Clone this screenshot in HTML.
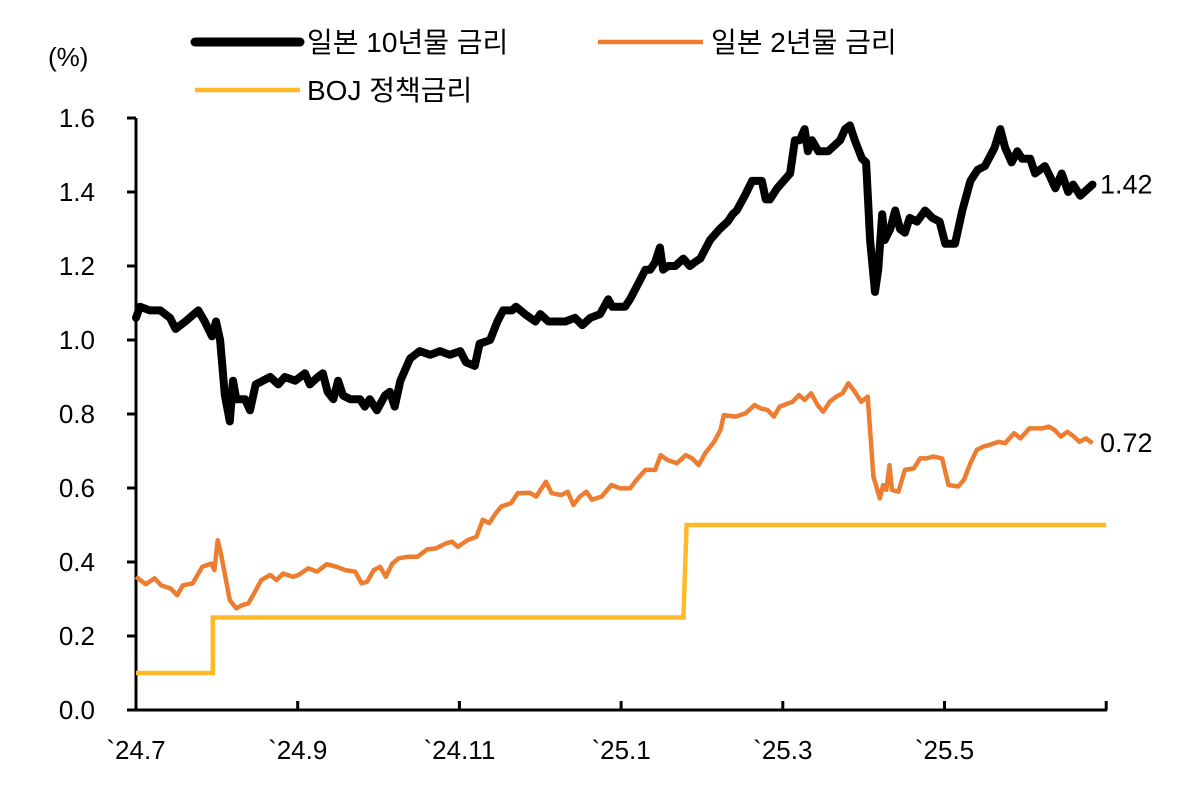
<!DOCTYPE html>
<html><head><meta charset="utf-8"><style>
html,body{margin:0;padding:0;background:#fff;}
svg{display:block;font-family:"Liberation Sans","Noto Sans CJK KR",sans-serif;}
</style></head><body>
<svg id="chart" width="1200" height="804" viewBox="0 0 1200 804">
<g id="axes"></g>
<g id="series"></g>
<g>
 <line x1="195" y1="42" x2="300" y2="42" stroke="#000" stroke-width="9" stroke-linecap="round"/>
 <text x="307" y="52" font-size="28">일본 10년물 금리</text>
 <line x1="598" y1="42" x2="703" y2="42" stroke="#ED7D31" stroke-width="4.5"/>
 <text x="711" y="52" font-size="28">일본 2년물 금리</text>
 <line x1="195" y1="90" x2="300" y2="90" stroke="#FDB927" stroke-width="4.5"/>
 <text x="307" y="100" font-size="28">BOJ 정책금리</text>
</g>
<text x="48" y="66" font-size="26">(%)</text>
</svg>
<script>
const yTicks=[0,0.2,0.4,0.6,0.8,1.0,1.2,1.4,1.6];
const xTickMonths=[0,2,4,6,8,10,12];
const xTickLabels=["`24.7","`24.9","`24.11","`25.1","`25.3","`25.5",""];
const t10=[0,.05,.17,.30,.42,.49,.61,.77,.85,.94,.99,1.04,1.10,1.16,1.20,1.24,1.35,1.41,1.48,1.66,1.76,1.84,1.97,2.09,2.15,2.25,2.31,2.37,2.44,2.50,2.56,2.65,2.77,2.83,2.89,2.98,3.08,3.14,3.20,3.27,3.39,3.51,3.64,3.76,3.88,4.01,4.08,4.19,4.25,4.38,4.47,4.54,4.65,4.70,4.81,4.94,5.00,5.10,5.18,5.31,5.43,5.52,5.62,5.74,5.84,5.89,6.05,6.11,6.23,6.30,6.36,6.42,6.48,6.52,6.58,6.67,6.77,6.85,6.91,6.98,7.10,7.22,7.32,7.38,7.43,7.53,7.62,7.68,7.74,7.79,7.84,7.93,8.09,8.15,8.21,8.27,8.31,8.36,8.44,8.56,8.71,8.77,8.83,8.89,8.98,9.03,9.08,9.14,9.18,9.23,9.26,9.33,9.39,9.45,9.51,9.57,9.66,9.76,9.85,9.94,10.01,10.13,10.22,10.32,10.41,10.50,10.62,10.69,10.75,10.83,10.90,10.96,11.06,11.12,11.24,11.31,11.37,11.45,11.53,11.59,11.68,11.78,11.83];
const y10=[1.06,1.09,1.08,1.08,1.06,1.03,1.05,1.08,1.05,1.01,1.05,1.00,.85,.78,.89,.84,.84,.81,.88,.90,.88,.90,.89,.91,.88,.90,.91,.86,.84,.89,.85,.84,.84,.82,.84,.81,.85,.86,.82,.89,.95,.97,.96,.97,.96,.97,.94,.93,.99,1.00,1.05,1.08,1.08,1.09,1.07,1.05,1.07,1.05,1.05,1.05,1.06,1.04,1.06,1.07,1.11,1.09,1.09,1.11,1.16,1.19,1.19,1.21,1.25,1.19,1.20,1.20,1.22,1.20,1.21,1.22,1.27,1.30,1.32,1.34,1.35,1.39,1.43,1.43,1.43,1.38,1.38,1.41,1.45,1.54,1.54,1.57,1.51,1.54,1.51,1.51,1.54,1.57,1.58,1.54,1.49,1.48,1.27,1.13,1.19,1.34,1.27,1.30,1.35,1.30,1.29,1.33,1.32,1.35,1.33,1.32,1.26,1.26,1.35,1.43,1.46,1.47,1.52,1.57,1.52,1.48,1.51,1.49,1.49,1.45,1.47,1.44,1.41,1.45,1.40,1.42,1.39,1.41,1.42];
const t2=[0,.12,.23,.31,.43,.51,.58,.70,.82,.93,.97,1.01,1.05,1.16,1.24,1.32,1.39,1.47,1.55,1.66,1.74,1.82,1.94,2.01,2.13,2.24,2.36,2.48,2.59,2.71,2.79,2.86,2.94,3.02,3.09,3.17,3.25,3.36,3.48,3.60,3.71,3.83,3.91,3.98,4.10,4.21,4.29,4.37,4.45,4.52,4.64,4.72,4.87,4.95,5.07,5.14,5.26,5.34,5.41,5.49,5.57,5.64,5.76,5.88,5.99,6.11,6.19,6.30,6.42,6.49,6.57,6.69,6.80,6.88,6.96,7.04,7.15,7.23,7.27,7.42,7.54,7.65,7.73,7.81,7.89,7.96,8.12,8.20,8.27,8.35,8.43,8.50,8.58,8.66,8.74,8.81,8.89,8.97,9.05,9.12,9.20,9.24,9.28,9.32,9.35,9.43,9.51,9.62,9.70,9.78,9.86,9.97,10.05,10.17,10.24,10.32,10.40,10.48,10.55,10.67,10.75,10.86,10.94,11.05,11.21,11.29,11.36,11.44,11.52,11.60,11.67,11.75,11.83];
const y2=[.36,.34,.356,.337,.328,.31,.337,.342,.387,.396,.378,.459,.423,.297,.275,.284,.288,.319,.351,.365,.351,.369,.360,.365,.383,.374,.394,.387,.378,.374,.342,.347,.378,.387,.360,.396,.410,.414,.414,.434,.437,.450,.455,.441,.459,.468,.514,.505,.532,.550,.559,.586,.587,.577,.617,.586,.581,.590,.554,.577,.590,.568,.577,.608,.599,.599,.622,.649,.649,.689,.676,.667,.689,.680,.662,.694,.725,.757,.797,.793,.802,.824,.815,.811,.793,.820,.833,.851,.838,.856,.824,.806,.833,.847,.856,.883,.860,.833,.847,.631,.572,.608,.595,.662,.595,.590,.649,.653,.680,.680,.685,.680,.608,.604,.622,.667,.703,.712,.716,.725,.721,.748,.734,.761,.761,.766,.757,.739,.752,.739,.725,.734,.721];
const tBoj=[0,0.95,0.95,6.77,6.81,12.0];
const yBoj=[0.10,0.10,0.25,0.25,0.50,0.50];
const last10Label="1.42", last2Label="0.72";

const X=m=>136+80.85*m, Y=v=>710-370*v;
const NS="http://www.w3.org/2000/svg";
function mk(tag,attrs,parent){const e=document.createElementNS(NS,tag);for(const k in attrs)e.setAttribute(k,attrs[k]);parent.appendChild(e);return e;}
const ax=document.getElementById('axes'), se=document.getElementById('series');
let e=mk('line',{x1:136,y1:Y(1.6),x2:136,y2:711,stroke:'#000','stroke-width':3},ax);


e=mk('line',{x1:134.5,y1:710,x2:X(12)+1,y2:710,stroke:'#000','stroke-width':3},ax);


yTicks.forEach(v=>{
 let t=mk('line',{x1:127,y1:Y(v),x2:136,y2:Y(v),stroke:'#000','stroke-width':3},ax);
 
 
 let l=mk('text',{x:95,y:Y(v)+9,'font-size':26,'text-anchor':'end'},ax);
 l.textContent=v.toFixed(1);
 
 
});
xTickMonths.forEach((m,i)=>{
 let t=mk('line',{x1:X(m),y1:701,x2:X(m),y2:710,stroke:'#000','stroke-width':3},ax);
 
 
 if(xTickLabels[i]){
  let l=mk('text',{x:X(m),y:759,'font-size':26,'text-anchor':'middle'},ax);
  l.textContent=xTickLabels[i];
  
  
 }
});
function pts(ts,vs){return ts.map((t,i)=>X(t).toFixed(1)+','+Y(vs[i]).toFixed(1)).join(' ');}
let p=mk('polyline',{points:pts(tBoj,yBoj),fill:'none',stroke:'#FDB927','stroke-width':4.5},se);


p=mk('polyline',{points:pts(t2,y2),fill:'none',stroke:'#ED7D31','stroke-width':4.5,'stroke-linejoin':'round'},se);


p=mk('polyline',{points:pts(t10,y10),fill:'none',stroke:'#000','stroke-width':8,'stroke-linejoin':'round','stroke-linecap':'round'},se);


let l=mk('text',{x:1100,y:Y(y10[y10.length-1])+9,'font-size':27},se);
l.textContent=last10Label;


l=mk('text',{x:1100,y:Y(y2[y2.length-1])+9,'font-size':27},se);
l.textContent=last2Label;


</script>
</body></html>
